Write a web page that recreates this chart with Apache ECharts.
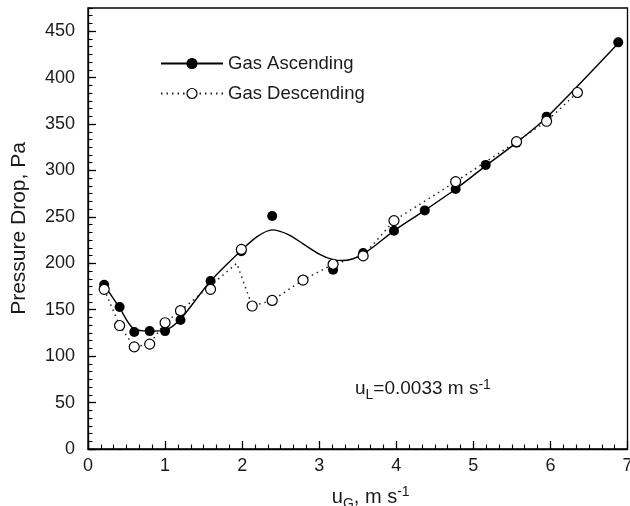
<!DOCTYPE html>
<html>
<head>
<meta charset="utf-8">
<script src="https://cdn.jsdelivr.net/npm/echarts@6/dist/echarts.min.js"></script>
<style>html,body{margin:0;padding:0;background:#fff;}#chart{width:630px;height:506px;}</style>
</head>
<body>
<div id="chart"></div>
<script>
// Gas ascending: measured points
const ascX = [0.21, 0.41, 0.6, 0.8, 1.0, 1.2, 1.59, 1.99, 2.39, 3.18, 3.57, 3.97, 4.37, 4.77, 5.16, 5.56, 5.95, 6.88];
const ascY = [177, 153, 126, 127, 127, 139, 181, 213, 251, 193, 211, 235, 257, 280, 306, 330, 358, 438];
// Gas ascending: fitted solid curve
const curveX = [0.21, 0.41, 0.6, 0.8, 1.0, 1.2, 1.59, 1.99, 2.2, 2.39, 2.6, 2.79, 3.0, 3.18, 3.3, 3.57, 3.97, 4.37, 4.77, 5.16, 5.56, 5.95, 6.88];
const curveY = [177, 152, 129, 127, 128, 140, 181, 214, 229, 236, 231, 221, 210, 204, 203, 210, 235, 257, 280, 305, 330, 357, 437];
// Gas descending: measured points
const descX = [0.21, 0.41, 0.6, 0.8, 1.0, 1.2, 1.59, 1.99, 2.13, 2.39, 2.79, 3.18, 3.57, 3.97, 4.77, 5.56, 5.95, 6.35];
const descY = [172, 133, 110, 113, 136, 149, 172, 215, 154, 160, 182, 199, 208, 246, 288, 331, 353, 384];
// Gas descending: dotted line
const descLineX = [0.21, 0.41, 0.6, 0.8, 1.0, 1.2, 1.59, 1.93, 2.13, 2.39, 2.79, 3.18, 3.57, 3.97, 4.77, 5.56, 5.95, 6.35];
const descLineY = [172, 133, 110, 113, 136, 149, 176, 200, 154, 160, 182, 199, 208, 246, 288, 331, 353, 384];
const seriesNames = ['Gas Ascending', 'Gas Descending'];

const zip = (xs, ys) => xs.map((x, i) => [x, ys[i]]);
const FONT = "'Liberation Sans', Arial, sans-serif";
const TXT = '#1a1a1a';

const chart = echarts.init(document.getElementById('chart'), null, {renderer: 'canvas'});
chart.setOption({
  animation: false,
  backgroundColor: '#fff',
  textStyle: {fontFamily: FONT},
  grid: {left: 88, right: 2.5, top: 8, bottom: 57, show: true, borderColor: '#000', borderWidth: 1.3, containLabel: false, outerBoundsMode: 'none'},
  title: {
    text: '{m|u}{sub|L}{m|=0.0033 m s}{sup|-1}',
    left: 355, top: 376, padding: 0,
    textStyle: {
      fontWeight: 'normal',
      rich: {
        m: {fontSize: 19, fontWeight: 'normal', fontFamily: FONT, color: TXT, lineHeight: 26, verticalAlign: 'middle'},
        sub: {fontSize: 14, fontWeight: 'normal', fontFamily: FONT, color: TXT, lineHeight: 14, verticalAlign: 'bottom'},
        sup: {fontSize: 14, fontWeight: 'normal', fontFamily: FONT, color: TXT, lineHeight: 14, verticalAlign: 'top', padding: [2, 0, 0, 0]}
      }
    }
  },
  legend: {
    data: seriesNames,
    orient: 'vertical',
    left: 160, top: 54, padding: 0,
    itemWidth: 62, itemHeight: 12.5, itemGap: 11,
    textStyle: {fontSize: 18.5, fontFamily: FONT, color: TXT},
    itemStyle: {borderWidth: 1.2}
  },
  xAxis: [{
    type: 'value', min: 0, max: 7, interval: 1,
    axisLine: {show: true, onZero: false, lineStyle: {color: '#000', width: 1.3}},
    axisTick: {show: true, inside: true, length: 8, lineStyle: {color: '#000', width: 1.3}},
    minorTick: {show: true, splitNumber: 6, length: 4.5, lineStyle: {color: '#000', width: 1.1}},
    axisLabel: {fontSize: 18, color: TXT, margin: 8, fontFamily: FONT},
    splitLine: {show: false},
    name: '{m|u}{sub|G}{m|, m s}{sup|-1}',
    nameLocation: 'middle', nameGap: 34,
    nameTextStyle: {
      padding: [0, 0, 0, 26],
      rich: {
        m: {fontSize: 20, fontFamily: FONT, color: TXT, lineHeight: 28, verticalAlign: 'middle'},
        sub: {fontSize: 14, fontFamily: FONT, color: TXT, lineHeight: 14, verticalAlign: 'bottom'},
        sup: {fontSize: 14, fontFamily: FONT, color: TXT, lineHeight: 14, verticalAlign: 'top', padding: [2, 0, 0, 0]}
      }
    }
  }],
  yAxis: [{
    type: 'value', min: 0, max: 475, interval: 50,
    axisLine: {show: true, onZero: false, lineStyle: {color: '#000', width: 1.3}},
    axisTick: {show: true, inside: true, length: 8, lineStyle: {color: '#000', width: 1.3}},
    axisLabel: {fontSize: 18, color: TXT, margin: 13, fontFamily: FONT, showMaxLabel: false},
    splitLine: {show: false},
    name: 'Pressure Drop, Pa', nameLocation: 'middle', nameGap: 58,
    nameTextStyle: {fontSize: 21, color: TXT, fontFamily: FONT}
  }, {
    type: 'value', min: 0, max: 475, interval: 25 / 3, position: 'left', offset: 0,
    axisLine: {show: false},
    axisTick: {show: true, inside: true, length: 4.5, lineStyle: {color: '#000', width: 1.1}},
    axisLabel: {show: false},
    splitLine: {show: false}
  }],
  series: [
    {
      name: seriesNames[0], type: 'line', data: zip(curveX, curveY), smooth: 0.3,
      symbol: 'circle', symbolSize: 10, showSymbol: false,
      lineStyle: {color: '#000', width: 1.4, type: 'solid'},
      itemStyle: {color: '#000', borderColor: '#000'},
      z: 2, silent: true
    },
    {
      name: seriesNames[1], type: 'line', data: zip(descLineX, descLineY), smooth: false,
      symbol: 'circle', symbolSize: 10, showSymbol: false,
      lineStyle: {color: '#222', width: 1.5, type: [1.5, 4]},
      itemStyle: {color: '#fff', borderColor: '#000', borderWidth: 1.2},
      z: 2, silent: true
    },
    {
      name: 'ascPoints', type: 'scatter', data: zip(ascX, ascY),
      symbol: 'circle', symbolSize: 10,
      itemStyle: {color: '#000', opacity: 1},
      z: 3, silent: true
    },
    {
      name: 'descPoints', type: 'scatter', data: zip(descX, descY),
      symbol: 'circle', symbolSize: 10,
      itemStyle: {color: '#fff', borderColor: '#000', borderWidth: 1.2, opacity: 1},
      z: 4, silent: true
    }
  ]
});
</script>
</body>
</html>
